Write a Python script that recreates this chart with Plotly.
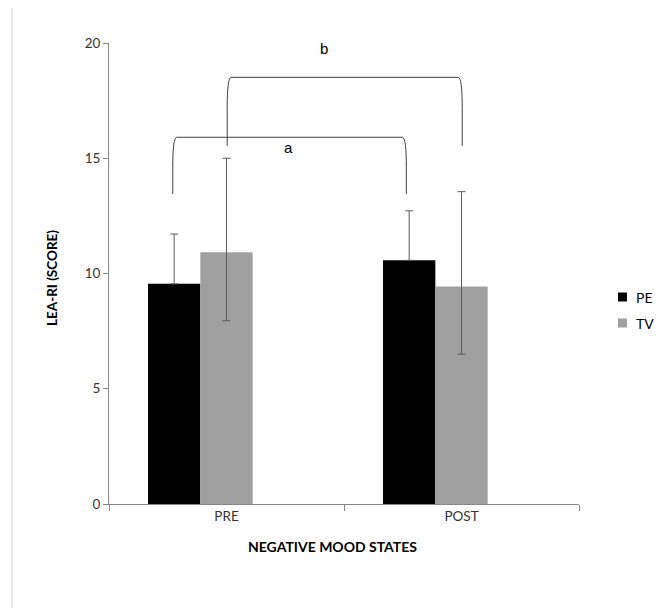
import plotly.graph_objects as go

categories = ["PRE", "POST"]
series_names = ["PE", "TV"]
series_colors = ["#000000", "#a0a0a0"]
pe_values = [9.55, 10.57]
pe_err_plus = [2.16, 2.15]
tv_values = [10.92, 9.44]
tv_err_plus = [4.08, 4.11]
tv_err_minus = [2.97, 2.94]
y_ticks = [0, 5, 10, 15, 20]

# page offset of the plotly div (default body margin)
OFF = 8
PX_L, PX_R, PX_T, PX_B = 109 - OFF, 579 - OFF, 43 - OFF, 504 - OFF
W, H = 665, 608
FONT = "Lato"

bargap = 0.332
bar_w = (1 - bargap) / 3
pe_off = -bar_w
tv_off = 0.0

fig = go.Figure()
fig.add_trace(go.Bar(
    x=categories, y=pe_values, name=series_names[0],
    marker=dict(color=series_colors[0], line=dict(width=0)),
    error_y=dict(type="data", symmetric=False, array=pe_err_plus, arrayminus=[0, 0],
                 color="#5a5a5a", thickness=1, width=4),
    showlegend=False,
))
fig.add_trace(go.Bar(
    x=categories, y=tv_values, name=series_names[1],
    marker=dict(color=series_colors[1], line=dict(width=0)),
    error_y=dict(type="data", symmetric=False, array=tv_err_plus, arrayminus=tv_err_minus,
                 color="#5a5a5a", thickness=1, width=4),
    showlegend=False,
))
fig.add_trace(go.Bar(x=categories, y=[None, None], showlegend=False, hoverinfo="skip"))


def bracket(x0, x1, yb0, yb1, yt, dx=0.017, curve=1.3):
    return (f"M {x0},{yb0} L {x0},{yt - curve} Q {x0},{yt} {x0 + dx},{yt} "
            f"L {x1 - dx},{yt} Q {x1},{yt} {x1},{yt - curve} L {x1},{yb1}")


def px_x(px):
    return (px - OFF - PX_L) / (PX_R - PX_L)


def px_y(py):
    return (PX_B - (py - OFF)) / (PX_B - PX_T)


shapes = [
    dict(type="path", xref="x", yref="y",
         path=bracket(pe_off - 0.006, 1 + pe_off - 0.012, 13.45, 13.45, 15.91),
         line=dict(color="#404040", width=1)),
    dict(type="path", xref="x", yref="y",
         path=bracket(tv_off + 0.003, 1 + tv_off + 0.003, 15.54, 15.54, 18.51),
         line=dict(color="#404040", width=1)),
    # outer chart frame
    dict(type="rect", xref="paper", yref="paper",
         x0=px_x(12), x1=px_x(663), y0=px_y(640), y1=px_y(5),
         line=dict(color="#d0d0d0", width=1)),
]

annotations = [
    dict(text="a", x=0.262, y=15.45, xref="x", yref="y", showarrow=False,
         font=dict(family="Liberation Sans", size=15, color="#000000")),
    dict(text="b", x=0.415, y=19.75, xref="x", yref="y", showarrow=False,
         font=dict(family="Liberation Sans", size=15, color="#000000")),
    dict(text="<b>NEGATIVE MOOD STATES</b>", x=px_x(332), y=px_y(557), xref="paper", yref="paper",
         showarrow=False, font=dict(family=FONT, size=14, color="#000000")),
    dict(text="<b>LEA-RI (SCORE)</b>", x=px_x(42), y=px_y(278), xref="paper", yref="paper",
         showarrow=False, textangle=-90, font=dict(family=FONT, size=13.5, color="#000000")),
]

# legend (drawn as swatches + labels)
legend_rows = [297, 323]
for name, color, row in zip(series_names, series_colors, legend_rows):
    shapes.append(dict(type="rect", xref="paper", yref="paper",
                       x0=px_x(618), x1=px_x(627), y0=px_y(row + 4.5), y1=px_y(row - 4.5),
                       fillcolor=color, line=dict(width=0)))
    annotations.append(dict(text=name, x=px_x(634), y=px_y(row), xref="paper", yref="paper",
                            xanchor="left", yanchor="middle", showarrow=False,
                            font=dict(family=FONT, size=14, color="#000000")))

fig.update_layout(
    width=W, height=H,
    margin=dict(l=PX_L, r=W - PX_R, t=PX_T, b=H - PX_B),
    paper_bgcolor="#ffffff", plot_bgcolor="#ffffff",
    barmode="group", bargap=bargap, bargroupgap=0,
    shapes=shapes, annotations=annotations,
    font=dict(family=FONT, size=13, color="#333333"),
    showlegend=False,
)
fig.update_xaxes(
    type="category", showline=True, linecolor="#868686", linewidth=1,
    ticks="outside", tickson="boundaries", ticklen=6, tickcolor="#868686",
    showgrid=False, zeroline=False, range=[-0.5, 1.5],
    tickfont=dict(family=FONT, size=13.5, color="#333333"),
)
fig.update_yaxes(
    range=[0, 20], tickvals=y_ticks, showline=True, linecolor="#868686", linewidth=1,
    ticks="outside", ticklen=5, tickcolor="#868686", showgrid=False, zeroline=False,
    tickfont=dict(family=FONT, size=13.5, color="#333333"),
)

fig.write_html("out.html")
